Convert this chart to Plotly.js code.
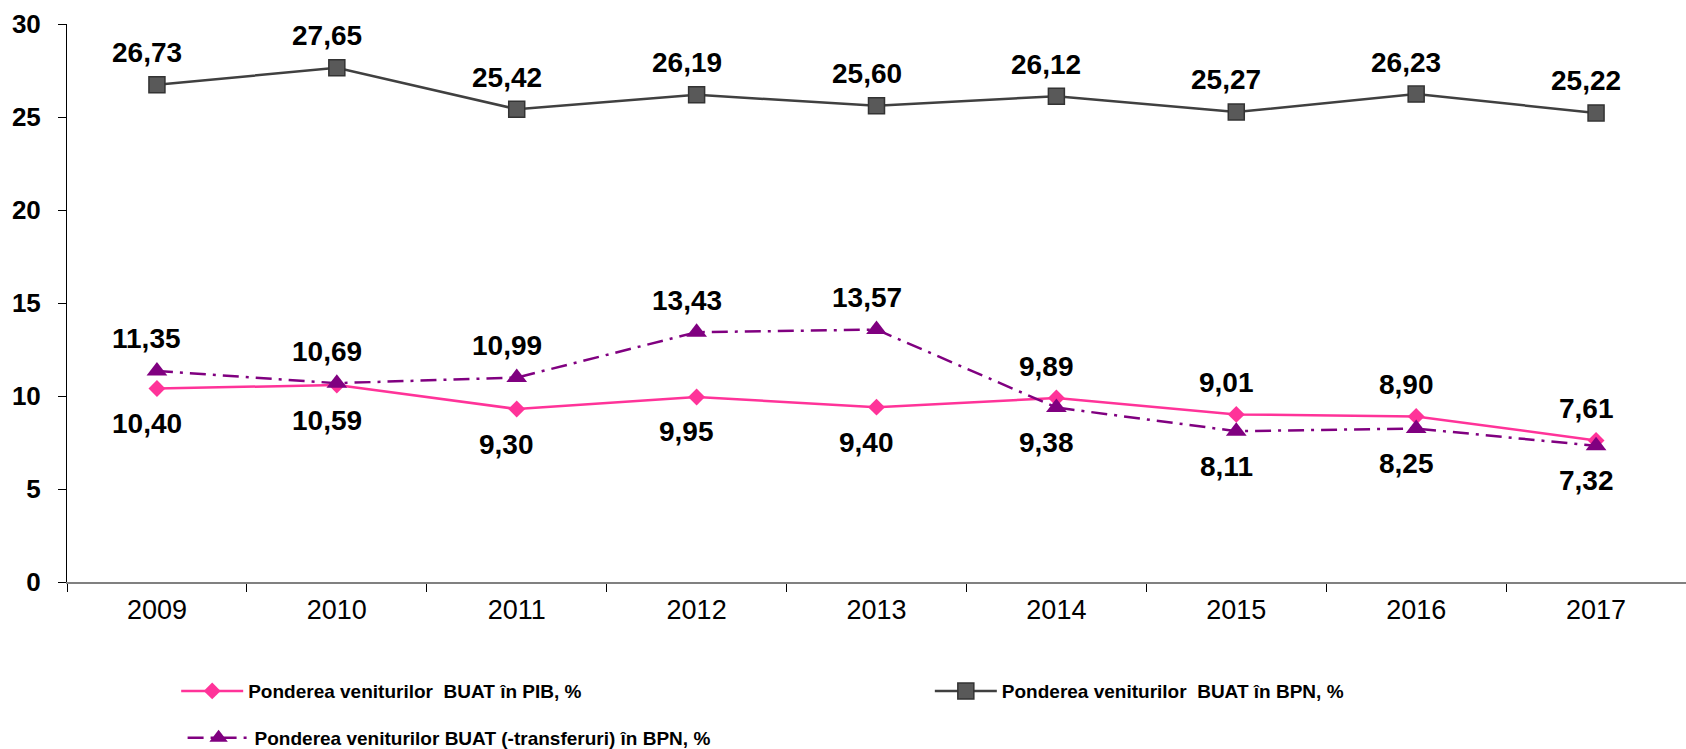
<!DOCTYPE html>
<html>
<head>
<meta charset="utf-8">
<script src="https://cdn.plot.ly/plotly-3.0.1.min.js"></script>
<style>
  html, body { margin: 0; padding: 0; background: #ffffff; }
  #chart { width: 1686px; height: 749px; }
</style>
</head>
<body>
<div id="chart"></div>
<script>
// ---- data ----
const years = ['2009', '2010', '2011', '2012', '2013', '2014', '2015', '2016', '2017'];
const pibShare = [10.40, 10.59, 9.30, 9.95, 9.40, 9.89, 9.01, 8.90, 7.61];
const bpnShare = [26.73, 27.65, 25.42, 26.19, 25.60, 26.12, 25.27, 26.23, 25.22];
const bpnNoTransfShare = [11.35, 10.69, 10.99, 13.43, 13.57, 9.38, 8.11, 8.25, 7.32];
const seriesNames = [
  'Ponderea veniturilor  BUAT în PIB, %',
  'Ponderea veniturilor  BUAT în BPN, %',
  'Ponderea veniturilor BUAT (-transferuri) în BPN, %'
];
// label side for each point (style only)
const pibLabelSide = ['below', 'below', 'below', 'below', 'below', 'above', 'above', 'above', 'above'];
const bpnLabelSide = ['above', 'above', 'above', 'above', 'above', 'above', 'above', 'above', 'above'];
const bpnNoTransfLabelSide = ['above', 'above', 'above', 'above', 'above', 'below', 'below', 'below', 'below'];

// ---- styles ----
const FONT = '"Liberation Sans", Arial, sans-serif';
const PINK = '#FF3399';
const GREY_LINE = '#404040';
const GREY_FILL = '#595959';
const PURPLE = '#800080';

const fmt = v => v.toFixed(2).replace('.', ',');

function labels(values, sides) {
  return values.map((v, i) => ({
    x: i, y: v, xref: 'x', yref: 'y',
    text: '<b>' + fmt(v) + '</b>',
    showarrow: false,
    xshift: -10,
    yshift: sides[i] === 'above' ? 32 : -35,
    font: { family: FONT, size: 28, color: '#000000' }
  }));
}

const traces = [
  {
    x: years, y: pibShare, name: seriesNames[0], type: 'scatter', mode: 'lines+markers',
    line: { color: PINK, width: 2.5 },
    marker: { symbol: 'diamond', size: 13, color: PINK, line: { width: 0 } },
    legend: 'legend'
  },
  {
    x: years, y: bpnShare, name: seriesNames[1], type: 'scatter', mode: 'lines+markers',
    line: { color: GREY_LINE, width: 2.5 },
    marker: { symbol: 'square', size: 16, color: GREY_FILL, line: { width: 1.5, color: '#333333' } },
    legend: 'legend2'
  },
  {
    x: years, y: bpnNoTransfShare, name: seriesNames[2], type: 'scatter', mode: 'lines+markers',
    line: { color: PURPLE, width: 2.5, dash: '16px,7px,3px,7px' },
    marker: { symbol: 'triangle-up', size: 18, color: PURPLE, line: { width: 0 } },
    legend: 'legend3'
  }
];

const annotations = [].concat(
  labels(bpnShare, bpnLabelSide),
  labels(pibShare, pibLabelSide),
  labels(bpnNoTransfShare, bpnNoTransfLabelSide)
);

const legendCommon = {
  orientation: 'h',
  xref: 'container', yref: 'container',
  xanchor: 'left', yanchor: 'middle',
  font: { family: FONT, size: 19, color: '#000000', weight: 'bold' },
  bgcolor: 'rgba(0,0,0,0)',
  itemwidth: 62
};

const layout = {
  width: 1686, height: 749,
  margin: { l: 67, r: 0, t: 24, b: 167, autoexpand: false },
  paper_bgcolor: '#ffffff', plot_bgcolor: '#ffffff',
  showlegend: true,
  font: { family: FONT, color: '#000000' },
  xaxis: {
    type: 'category', range: [-0.5, 8.5],
    showline: true, linecolor: '#808080', linewidth: 1.5,
    ticks: 'outside', tickson: 'boundaries', ticklen: 8, tickcolor: '#000000', tickwidth: 1,
    showgrid: false, zeroline: false,
    tickfont: { family: FONT, size: 27, color: '#000000' },
    ticklabelstandoff: 3
  },
  yaxis: {
    range: [0, 30], dtick: 5, tick0: 0,
    showline: true, linecolor: '#000000', linewidth: 1,
    ticks: 'outside', ticklen: 8, tickcolor: '#000000', tickwidth: 1,
    showgrid: false, zeroline: false,
    tickfont: { family: FONT, size: 26, color: '#000000', weight: 'bold' },
    ticklabelstandoff: 12
  },
  legend: Object.assign({}, legendCommon, { x: 0.1045, y: 0.0774 }),
  legend2: Object.assign({}, legendCommon, { x: 0.5515, y: 0.0774 }),
  legend3: Object.assign({}, legendCommon, { x: 0.1083, y: 0.0147 }),
  annotations: annotations
};

Plotly.newPlot('chart', traces, layout, { displayModeBar: false, staticPlot: true });
</script>
</body>
</html>
